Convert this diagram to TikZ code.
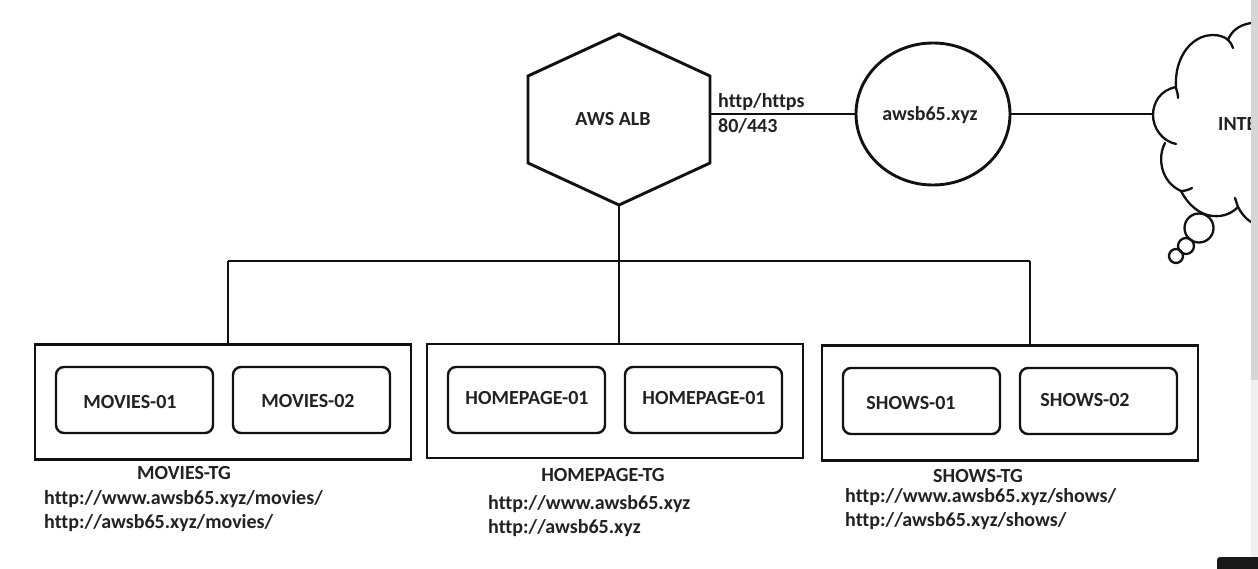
\documentclass[tikz,border=0pt]{standalone}
\usepackage{fontspec}
\setmainfont[Ligatures=NoCommon]{Carlito}
\usetikzlibrary{shapes.geometric}
\definecolor{ink}{HTML}{111111}
\definecolor{txt}{HTML}{222222}
\tikzset{
  line/.style={draw=ink,line width=2.9pt},
  thin line/.style={draw=ink,line width=2.3pt,line cap=round},
  group/.style={line,rectangle,inner sep=0pt},
  server/.style={draw=ink,line width=2.4pt,rectangle,rounded corners=8pt,minimum width=157pt,minimum height=66pt,inner sep=0pt},
  lbl/.style={text=txt,inner sep=0pt,font=\fontsize{20}{20}\selectfont\bfseries},
  url/.style={text=txt,inner sep=0pt,anchor=west,font=\fontsize{20}{20}\selectfont\bfseries}
}
\begin{document}
\begin{tikzpicture}[x=1pt,y=-1pt]
\useasboundingbox (0,0) rectangle (1258,569);
\fill[white] (0,0) rectangle (1258,569);
% hexagon
\coordinate (albR) at (710,114);
\coordinate (albB) at (619,205);
\draw[line,line join=miter] (619,34) -- (710,76) -- (710,163) -- (albB) -- (528,163) -- (528,76) -- cycle;
\node[lbl] (alb) at (613,119) {AWS ALB};
% domain
\node[draw=ink,line width=2.9pt,ellipse,minimum width=154pt,minimum height=142pt,inner sep=0pt] (dom) at (933,114) {};
\node[lbl] at (930,115) {awsb65.xyz};
\node[url] (proto) at (718,102) {http/https};
\node[url] (port) at (718,126) {80/443};
% groups
\node[group,minimum width=376pt,minimum height=115pt] (gm) at (223,402) {};
\node[group,minimum width=376pt,minimum height=114pt] (gh) at (615,401) {};
\node[group,minimum width=376pt,minimum height=115pt] (gs) at (1010,403) {};
% servers
\node[server] (m1) at (134.5,400) {};
\node[lbl] at (130,402) {MOVIES-01};
\node[server] (m2) at (311.5,400) {};
\node[lbl] at (308,401) {MOVIES-02};
\node[server] (h1) at (526.5,400) {};
\node[lbl] at (527,398) {HOMEPAGE-01};
\node[server] (h2) at (703.5,400) {};
\node[lbl] at (704,398) {HOMEPAGE-01};
\node[server] (s1) at (921.5,401) {};
\node[lbl] at (911,403) {SHOWS-01};
\node[server] (s2) at (1098.5,401) {};
\node[lbl] at (1085,400) {SHOWS-02};
% captions
\node[lbl] at (184,473) {MOVIES-TG};
\node[url] at (44,499) {http://www.awsb65.xyz/movies/};
\node[url] at (44,523) {http://awsb65.xyz/movies/};
\node[lbl] at (603,475) {HOMEPAGE-TG};
\node[url] at (488,504) {http://www.awsb65.xyz};
\node[url] at (488,528) {http://awsb65.xyz};
\node[lbl] at (978,476) {SHOWS-TG};
\node[url] at (845,497) {http://www.awsb65.xyz/shows/};
\node[url] at (845,521) {http://awsb65.xyz/shows/};
% connectors
\coordinate (bus) at (619,261);
\draw[line] (albB) -- (bus) -- (gh.north -| bus);
\draw[line] (228,261) -- (1030,261);
\draw[line] (228,261) -- (gm.north -| 228,0);
\draw[line] (1030,261) -- (gs.north -| 1030,0);
\draw[line] (albR) -- (dom.west);
\coordinate (cloudL) at (1152,114);
\draw[line] (dom.east) -- (cloudL);
% cloud
\draw[thin line] (1251,23) .. controls (1238,25) and (1231,32) .. (1228,40) .. controls (1232,44) and (1232,46) .. (1233,48);
\draw[thin line] (1228,40) .. controls (1222,34) and (1204,31) .. (1190,45) .. controls (1178,57) and (1175,75) .. (1176,88) .. controls (1177,92) and (1178,94) .. (1178,98);
\draw[thin line] (1176,87) .. controls (1160,90) and (1153,103) .. (1153,115) .. controls (1153,128) and (1162,141) .. (1176,144);
\draw[thin line] (1165,143) .. controls (1157,158) and (1161,182) .. (1181,191) .. controls (1185,191) and (1188,190) .. (1192,188);
\draw[thin line] (1181,191) .. controls (1188,205) and (1200,215) .. (1213,216) .. controls (1224,217) and (1232,213) .. (1238,207) .. controls (1237,204) and (1236,201) .. (1235,198);
\draw[thin line] (1238,207) .. controls (1241,213) and (1246,219) .. (1251,222);
\draw[thin line] (1199,228) circle[radius=14.5];
\draw[thin line] (1186,246) circle[radius=8];
\draw[thin line] (1176,256) circle[radius=7];
\node[url] at (1218,124) {INTE};
% page edge
\fill[white] (1251,0) rectangle (1258,569);
\fill[black!16] (1251,0) rectangle (1258,380);
\fill[black!6] (1251,380) rectangle (1258,557);
\fill[black!90,rounded corners=3pt] (1217,557) rectangle (1262,575);
\end{tikzpicture}
\end{document}
